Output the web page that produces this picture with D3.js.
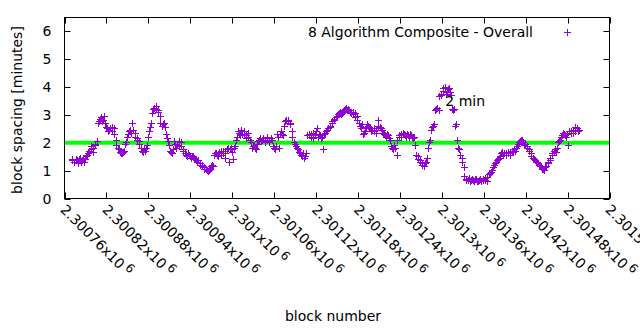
<!DOCTYPE html>
<html>
<head>
<meta charset="utf-8">
<script src="https://cdn.jsdelivr.net/npm/d3@7/dist/d3.min.js"></script>
<style>
  body { margin: 0; background: #fff; }
  svg { display: block; font-family: "DejaVu Sans", sans-serif; }
</style>
</head>
<body>
<div id="chart"></div>
<script>
// rolling block spacing (8 algorithm composite)
// two interleaved samples: blocks firstBlock + 3i and firstBlock + 1 + 3i
const firstBlock = 2300771;
const blockStep = 3;
const spacingMinutes = [
  1.35, 1.3, 1.4, 1.25, 1.45, 1.35, 1.3, 1.5, 1.6, 1.75,
  1.8, 1.9, 2.05, 2.75, 2.9, 2.8, 2.7, 2.5, 2.45, 2.4,
  2.5, 2.1, 1.8, 1.65, 1.6, 1.7, 2.0, 2.3, 2.45, 2.7,
  2.35, 2.1, 2.05, 1.8, 1.65, 1.7, 1.9, 2.4, 2.7, 3.2,
  3.3, 3.15, 2.95, 2.6, 2.7, 2.3, 2.05, 1.7, 1.6, 2.05,
  1.8, 1.85, 2.0, 1.75, 1.6, 1.5, 1.55, 1.45, 1.5, 1.4,
  1.3, 1.25, 1.15, 1.1, 1.05, 0.98, 1.05, 1.2, 1.55, 1.6,
  1.5, 1.7, 1.6, 1.45, 1.75, 1.3, 1.8, 1.4, 1.85, 2.2,
  2.35, 2.45, 2.3, 2.15, 2.35, 2.1, 1.8, 1.9, 1.75, 2.05,
  2.15, 2.1, 2.0, 2.2, 2.05, 2.15, 1.85, 1.75, 2.3, 1.8,
  2.4, 2.25, 2.75, 2.8, 2.65, 2.4, 2.0, 1.85, 1.75, 1.6,
  1.5, 1.45, 1.6, 2.3, 2.2, 2.35, 2.25, 2.5, 2.3, 2.15,
  1.75, 2.35, 2.45, 2.55, 2.7, 2.8, 2.9, 3.0, 3.1, 3.05,
  3.15, 3.25, 3.2, 3.1, 3.0, 3.05, 2.95, 2.7, 2.5, 2.3,
  2.4, 2.65, 2.55, 2.4, 2.5, 2.35, 2.8, 2.55, 2.45, 2.3,
  2.2, 2.25, 2.1, 1.8, 1.9, 1.55, 2.2, 2.3, 2.35, 2.25,
  2.3, 2.2, 2.25, 2.15, 1.9, 1.5, 1.35, 1.25, 1.15, 1.3,
  1.8, 2.1, 2.55, 2.65, 3.2, 3.15, 3.7, 3.85, 4.0, 3.8,
  3.95, 3.7, 3.15, 2.6, 2.1, 1.75, 1.45, 1.1, 0.7, 0.65,
  0.6, 0.7, 0.62, 0.68, 0.6, 0.7, 0.65, 0.72, 0.62, 0.85,
  0.95, 1.1, 1.25, 1.35, 1.45, 1.6, 1.55, 1.6, 1.65, 1.55,
  1.7, 1.75, 1.8, 1.95, 2.05, 2.1, 1.9, 1.85, 1.75, 1.6,
  1.45, 1.35, 1.3, 1.2, 1.15, 1.05, 1.1, 1.25, 1.35, 1.55,
  1.7, 1.65, 2.0, 2.1, 2.25, 2.3, 2.2, 1.9, 2.35, 2.45,
  2.4, 2.5, 2.45
];
const spacingMinutesNext = [
  1.4, 1.3, 1.35, 1.4, 1.3, 1.45, 1.4, 1.55, 1.7, 1.85,
  1.65, 1.95, 2.7, 2.85, 2.75, 2.95, 2.55, 2.4, 2.5, 2.55,
  2.3, 1.9, 1.75, 1.6, 1.65, 1.95, 2.2, 2.4, 2.35, 2.45,
  2.2, 2.15, 1.95, 1.7, 1.75, 1.8, 2.2, 2.55, 3.05, 3.25,
  3.2, 3.1, 2.7, 2.65, 2.55, 2.15, 1.9, 1.65, 1.75, 1.95,
  1.9, 2.05, 1.85, 1.7, 1.55, 1.6, 1.5, 1.5, 1.45, 1.35,
  1.35, 1.2, 1.2, 1.05, 1.0, 1.02, 1.15, 1.15, 1.6, 1.55,
  1.65, 1.55, 1.7, 1.6, 1.8, 1.75, 1.65, 1.8, 2.1, 2.4,
  2.25, 2.3, 2.4, 2.25, 2.2, 2.0, 1.85, 1.8, 1.95, 2.1,
  2.05, 2.15, 2.1, 2.1, 2.0, 2.1, 1.8, 1.85, 2.2, 2.3,
  2.3, 2.6, 2.8, 2.75, 2.7, 2.2, 1.95, 1.8, 1.65, 1.55,
  1.6, 1.5, 2.25, 2.25, 2.3, 2.15, 2.4, 2.2, 2.25, 2.2,
  2.3, 2.4, 2.5, 2.6, 2.75, 2.85, 2.95, 3.05, 3.0, 3.1,
  3.2, 3.15, 3.15, 3.05, 3.1, 2.9, 2.8, 2.6, 2.65, 2.35,
  2.55, 2.6, 2.5, 2.45, 2.4, 2.45, 2.6, 2.5, 2.35, 2.25,
  2.3, 2.15, 1.85, 1.75, 1.8, 2.1, 2.25, 2.2, 2.3, 2.2,
  2.25, 2.3, 2.2, 2.2, 1.55, 1.4, 1.3, 1.2, 1.25, 1.45,
  2.0, 2.45, 2.6, 3.15, 3.25, 3.65, 3.75, 3.95, 3.75, 3.9,
  3.8, 3.2, 3.2, 2.65, 1.8, 1.55, 1.3, 0.8, 0.65, 0.72,
  0.66, 0.64, 0.7, 0.6, 0.66, 0.62, 0.7, 0.66, 0.75, 0.9,
  1.0, 1.2, 1.3, 1.4, 1.5, 1.65, 1.6, 1.55, 1.6, 1.65,
  1.65, 1.7, 1.85, 2.0, 2.1, 2.0, 1.95, 1.8, 1.7, 1.5,
  1.4, 1.3, 1.25, 1.15, 1.05, 1.0, 1.15, 1.3, 1.45, 1.6,
  1.75, 1.8, 2.05, 2.2, 2.35, 2.25, 2.3, 2.4, 2.4, 2.35,
  2.55, 2.4
];

const xTickBlocks = [2300760, 2300820, 2300880, 2300940, 2301000, 2301060, 2301120,
  2301180, 2301240, 2301300, 2301360, 2301420, 2301480, 2301540];
const xTickLabels = ['2.30076', '2.30082', '2.30088', '2.30094', '2.301', '2.30106', '2.30112',
  '2.30118', '2.30124', '2.3013', '2.30136', '2.30142', '2.30148', '2.30154'];
const yTicks = [0, 1, 2, 3, 4, 5, 6];
const targetMinutes = 2;
const seriesName = '8 Algorithm Composite - Overall';
const noteText = '2 min';
const noteBlock = 2301305;
const noteMinutes = 3.5;

const width = 640, height = 330;
const plotLeft = 64.5, plotRight = 609.5, plotTop = 17.5, plotBottom = 198.5;
const purple = '#9400d3';

const points = spacingMinutes.map((v, i) => ({ block: firstBlock + i * blockStep, v }))
  .concat(spacingMinutesNext.map((v, i) => ({ block: firstBlock + 1 + i * blockStep, v })));

const x = d3.scaleLinear().domain([2300760, 2301540]).range([plotLeft, plotRight]);
const y = d3.scaleLinear().domain([0, 6.5]).range([plotBottom, plotTop]);

const svg = d3.select('#chart').append('svg')
  .attr('width', width)
  .attr('height', height);

svg.append('defs').append('clipPath')
  .attr('id', 'plot-clip')
  .append('rect')
  .attr('x', plotLeft).attr('y', plotTop)
  .attr('width', plotRight - plotLeft).attr('height', plotBottom - plotTop);

// plus marker snapped to the pixel grid so the 1px arms stay solid
function plus(px, py, r) {
  const cx = Math.floor(px) + 0.5, cy = Math.floor(py) + 0.5;
  return `M${cx - r},${cy}h${2 * r}M${cx},${cy - r}v${2 * r}`;
}

// ticks on all four sides, pointing inward
const tickLen = 6;
const ticks = svg.append('g').attr('stroke', '#000').attr('stroke-width', 1);
yTicks.forEach(t => {
  const py = Math.round(y(t)) + 0.5;
  ticks.append('line').attr('x1', plotLeft).attr('x2', plotLeft + tickLen).attr('y1', py).attr('y2', py);
  ticks.append('line').attr('x1', plotRight).attr('x2', plotRight - tickLen).attr('y1', py).attr('y2', py);
});
xTickBlocks.forEach(b => {
  const px = Math.round(x(b)) + 0.5;
  ticks.append('line').attr('x1', px).attr('x2', px).attr('y1', plotBottom).attr('y2', plotBottom - tickLen);
  ticks.append('line').attr('x1', px).attr('x2', px).attr('y1', plotTop).attr('y2', plotTop + tickLen);
});

// y tick labels
svg.append('g')
  .selectAll('text')
  .data(yTicks)
  .enter()
  .append('text')
  .attr('x', plotLeft - 13)
  .attr('y', d => y(d))
  .attr('dy', '0.36em')
  .attr('text-anchor', 'end')
  .attr('font-size', 14)
  .text(d => d);

// x tick labels, rotated, mantissa x10^6
const xLabels = svg.append('g')
  .selectAll('text')
  .data(xTickBlocks)
  .enter()
  .append('text')
  .attr('transform', d => `translate(${x(d) - 5},${plotBottom + 12}) rotate(45)`)
  .attr('font-size', 14);
xLabels.append('tspan').text((d, i) => xTickLabels[i] + 'x10');
xLabels.append('tspan').attr('dx', 3).attr('dy', -5).attr('font-size', 12).text('6');

// axis titles
svg.append('text')
  .attr('transform', `translate(22,${(plotTop + plotBottom) / 2 + 2}) rotate(-90)`)
  .attr('text-anchor', 'middle')
  .attr('font-size', 14)
  .text('block spacing [minutes]');

svg.append('text')
  .attr('x', (plotLeft + plotRight) / 2 - 4)
  .attr('y', 321)
  .attr('text-anchor', 'middle')
  .attr('font-size', 14)
  .text('block number');

const plot = svg.append('g').attr('clip-path', 'url(#plot-clip)');

// 2 minute target line
plot.append('line')
  .attr('x1', plotLeft).attr('x2', plotRight)
  .attr('y1', y(targetMinutes)).attr('y2', y(targetMinutes))
  .attr('stroke', '#00ff00')
  .attr('stroke-width', 4);

plot.append('path')
  .attr('fill', 'none')
  .attr('stroke', purple)
  .attr('stroke-width', 1)
  .attr('d', points.map(p => plus(x(p.block), y(p.v), 3.5)).join(''));

// annotation
svg.append('text')
  .attr('x', x(noteBlock))
  .attr('y', y(noteMinutes) + 5)
  .attr('font-size', 14)
  .text(noteText);

// legend
svg.append('text')
  .attr('x', 533)
  .attr('y', 37)
  .attr('text-anchor', 'end')
  .attr('font-size', 14)
  .text(seriesName);
svg.append('path')
  .attr('fill', 'none')
  .attr('stroke', purple)
  .attr('d', plus(567, 32, 3.5));

// frame
svg.append('rect')
  .attr('x', plotLeft).attr('y', plotTop)
  .attr('width', plotRight - plotLeft).attr('height', plotBottom - plotTop)
  .attr('fill', 'none')
  .attr('stroke', '#000')
  .attr('stroke-width', 1);
</script>
</body>
</html>
